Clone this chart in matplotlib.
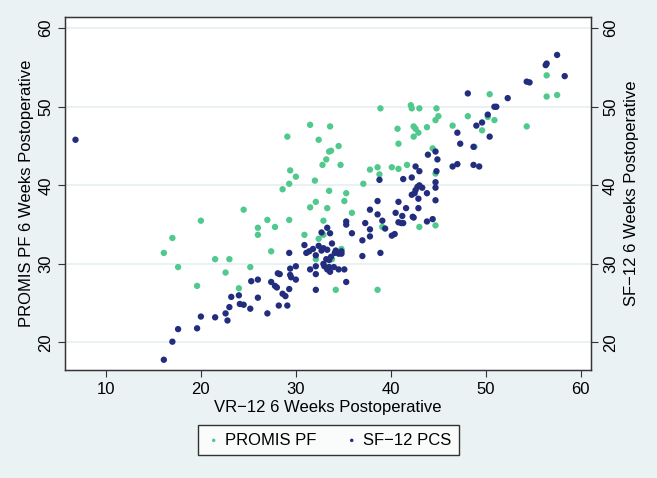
import matplotlib
matplotlib.use('Agg')
import matplotlib.pyplot as plt

# PROMIS PF vs VR-12
promis_x = [16.1, 17.0, 17.6, 20.0, 19.6, 21.5, 23.0, 22.6, 24.0, 24.5,
            25.2, 26.0, 26.0, 27.0, 27.4, 27.8, 28.6, 29.1, 29.3, 29.4,
            29.3, 30.0, 30.9, 31.5, 31.5, 32.0, 32.1, 32.1, 32.4, 32.4,
            32.8, 32.9, 32.9, 33.2, 33.3, 33.5, 33.6, 33.7, 33.5, 33.8,
            34.2, 34.5, 34.7, 34.8, 35.1, 35.3, 35.9, 37.1, 37.8, 38.6,
            38.8, 38.6, 38.9, 39.1, 40.1, 40.7, 40.8, 40.8, 41.7, 42.1,
            42.2, 42.4, 42.4, 42.6, 42.9, 43.0, 43.0, 43.8, 44.4, 44.7,
            44.8, 45.0, 44.7, 44.7, 46.5, 48.1, 48.8, 49.6, 50.2, 50.4,
            50.9, 54.3, 56.4, 56.4, 57.5]
promis_y = [31.4, 33.3, 29.6, 35.5, 27.2, 30.6, 30.6, 28.9, 26.9, 36.9,
            29.6, 34.6, 33.7, 35.6, 31.6, 34.7, 39.5, 46.2, 40.2, 41.9,
            35.6, 41.1, 33.7, 47.7, 37.2, 40.6, 37.9, 30.6, 33.2, 45.8,
            42.6, 35.5, 33.7, 43.3, 37.1, 44.3, 47.5, 44.4, 39.3, 30.6,
            26.7, 45.0, 42.6, 31.9, 38.0, 39.0, 36.5, 40.2, 42.0, 42.3,
            41.4, 26.7, 49.8, 34.7, 42.3, 47.2, 42.1, 45.3, 42.6, 50.2,
            49.8, 46.2, 47.5, 47.2, 46.7, 49.8, 34.7, 47.4, 44.7, 48.3,
            49.8, 48.8, 41.5, 34.9, 47.6, 48.8, 44.9, 47.0, 48.7, 51.6,
            48.3, 47.5, 54.0, 51.3, 51.5]

# SF-12 PCS vs VR-12
sf12_x = [6.8, 16.1, 17.0, 17.6, 19.6, 20.0, 21.5, 22.6, 22.8, 23.0,
          23.2, 24.0, 24.1, 24.5, 25.2, 25.3, 26.0, 26.0, 27.0, 27.4,
          27.8, 28.0, 28.1, 28.3, 28.2, 28.6, 28.9, 29.1, 29.3, 29.3,
          29.4, 29.4, 29.5, 30.0, 30.0, 30.9, 31.1, 31.4, 31.5, 31.8,
          32.1, 32.1, 32.1, 32.1, 32.4, 32.7, 32.7, 32.9, 32.9, 33.0,
          33.2, 33.3, 33.3, 33.3, 33.5, 33.5, 33.6, 33.6, 33.7, 33.8,
          34.0, 34.1, 34.2, 34.5, 34.5, 34.8, 34.8, 35.1, 35.3, 35.3,
          35.3, 35.9, 37.0, 37.0, 37.3, 37.8, 37.8, 37.8, 38.6, 38.6,
          38.8, 38.9, 39.1, 39.4, 40.1, 40.4, 40.5, 40.8, 40.8, 41.1,
          41.2, 41.3, 41.3, 41.6, 42.2, 42.2, 42.3, 42.4, 42.5, 42.6,
          42.6, 42.8, 42.9, 42.9, 43.0, 43.0, 43.3, 43.8, 43.8, 43.9,
          44.4, 44.7, 44.7, 44.7, 44.7, 44.8, 44.9, 46.5, 47.0, 47.0,
          47.3, 48.1, 48.7, 48.7, 49.0, 49.3, 49.6, 50.2, 50.4, 50.9,
          51.1, 52.3, 54.3, 54.6, 56.3, 56.4, 57.5, 58.3]
sf12_y = [45.8, 17.8, 20.1, 21.7, 21.8, 23.3, 23.2, 23.7, 22.8, 24.5,
          25.8, 26.0, 24.9, 24.8, 24.3, 27.8, 25.7, 28.0, 23.7, 27.7,
          27.2, 27.0, 28.8, 28.7, 24.7, 26.2, 25.9, 24.7, 31.4, 26.8,
          29.4, 28.6, 28.3, 29.7, 28.0, 32.4, 31.4, 31.6, 29.3, 31.9,
          31.1, 29.7, 28.7, 26.7, 32.3, 34.0, 31.7, 32.0, 30.0, 29.7,
          30.6, 34.6, 31.8, 29.3, 29.6, 30.5, 33.9, 29.0, 30.9, 32.6,
          29.6, 31.4, 31.7, 31.3, 29.3, 31.6, 31.3, 29.3, 27.7, 35.4,
          35.0, 33.9, 33.0, 31.0, 35.2, 36.9, 34.4, 33.5, 38.0, 36.3,
          40.7, 31.4, 35.5, 34.5, 33.6, 33.8, 36.5, 35.3, 37.9, 35.2,
          36.1, 40.8, 35.2, 37.1, 38.8, 41.0, 36.0, 35.9, 39.0, 42.4,
          39.4, 39.8, 38.3, 37.1, 41.8, 40.0, 39.7, 39.0, 35.4, 43.9,
          35.7, 44.3, 40.4, 39.7, 38.1, 41.8, 43.3, 42.4, 46.7, 42.7,
          45.3, 51.7, 44.9, 42.6, 47.6, 42.4, 48.0, 49.0, 46.2, 50.0,
          50.0, 51.1, 53.2, 53.1, 55.3, 55.5, 56.6, 53.9]

green = '#50c98c'
navy = '#232d7e'
bg = '#eaf2f3'

plt.rcParams['font.family'] = ['Liberation Sans', 'DejaVu Sans']

fig = plt.figure(figsize=(6.57, 4.78), dpi=100, facecolor=bg)
ax = fig.add_axes([0.099, 0.226, 0.801, 0.738])
ax.set_facecolor('white')

ax.scatter(promis_x, promis_y, s=21, color=green, edgecolors='none',
           label='PROMIS PF', zorder=3)
ax.scatter(sf12_x, sf12_y, s=21, color=navy, edgecolors='none',
           label='SF\u221212 PCS', zorder=3)

ax.set_xlim(5.7, 61.1)
ax.set_ylim(16.5, 61.4)
ax.set_xticks([10, 20, 30, 40, 50, 60])
ax.set_yticks([20, 30, 40, 50, 60])
ax.yaxis.grid(True, color='#e6eff1', linewidth=1.2)
ax.set_axisbelow(True)
for s in ax.spines.values():
    s.set_color('#333333')
    s.set_linewidth(1.0)
ax.tick_params(axis='both', labelsize=12, length=5, color='#333333')
ax.tick_params(axis='y', labelrotation=90)
for t in ax.get_yticklabels():
    t.set_va('center')
ax.set_xlabel('VR\u221212 6 Weeks Postoperative', fontsize=12, labelpad=2)
ax.set_ylabel('PROMIS PF 6 Weeks Postoperative', fontsize=12, labelpad=3)

ax2 = ax.twinx()
ax2.set_ylim(ax.get_ylim())
ax2.set_yticks([20, 30, 40, 50, 60])
ax2.tick_params(axis='y', labelsize=12, length=5, color='#333333', labelrotation=90)
for t in ax2.get_yticklabels():
    t.set_va('center')
for s in ax2.spines.values():
    s.set_color('#333333')
ax2.set_ylabel('SF\u221212 6 Weeks Postoperative', fontsize=12, labelpad=4)

leg = fig.legend(loc='center', bbox_to_anchor=(0.5, 0.079), ncol=2,
                 fontsize=12, frameon=True, fancybox=False, markerscale=0.55,
                 handletextpad=0.2, columnspacing=1.6, borderpad=0.45,
                 handlelength=1.0)
leg.get_frame().set_edgecolor('black')
leg.get_frame().set_linewidth(1.0)

fig.savefig('out.png', dpi=100, facecolor=bg)
